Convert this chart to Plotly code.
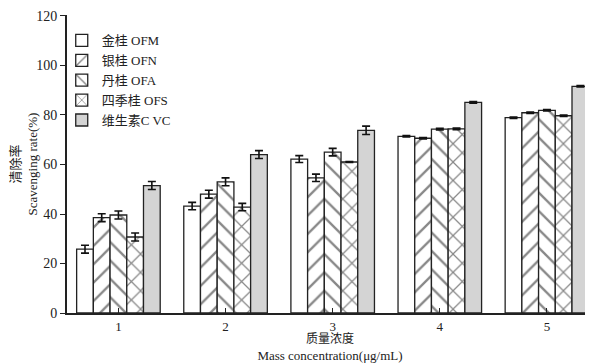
import plotly.graph_objects as go

categories = [1, 2, 3, 4, 5]
tick_labels = ["1", "2", "3", "4", "5"]
series_names = ["金桂 OFM", "银桂 OFN", "丹桂 OFA", "四季桂 OFS", "维生素C VC"]
ofm = [25.8, 43.2, 62.2, 71.4, 78.9]
ofn = [38.5, 48.0, 54.6, 70.6, 80.9]
ofa = [39.6, 53.0, 65.0, 74.3, 81.9]
ofs = [30.7, 42.8, 61.0, 74.4, 79.7]
vc = [51.5, 64.0, 73.8, 85.1, 91.6]
err_ofm = [1.6, 1.5, 1.4, 0.3, 0.3]
err_ofn = [1.6, 1.6, 1.5, 0.3, 0.3]
err_ofa = [1.6, 1.6, 1.5, 0.3, 0.3]
err_ofs = [1.6, 1.5, 0.2, 0.3, 0.3]
err_vc = [1.6, 1.6, 1.7, 0.3, 0.3]

values = [ofm, ofn, ofa, ofs, vc]
errors = [err_ofm, err_ofn, err_ofa, err_ofs, err_vc]
patterns = ["", "/", "\\", "x", ""]
fills = ["white", "white", "white", "white", "#d4d4d4"]

font_en = "Liberation Serif, Noto Sans CJK SC"

fig = go.Figure()
for name, v, e, p, c in zip(series_names, values, errors, patterns, fills):
    fig.add_trace(go.Bar(
        x=categories, y=v, name=name,
        marker=dict(color=c, line=dict(color="#222", width=1.3),
                    pattern=dict(shape=p, fgcolor="#111", bgcolor=c, size=13, solidity=0.18)),
        error_y=dict(type="data", array=e, color="#111", thickness=1.6, width=4),
    ))

fig.update_layout(
    width=585, height=355,
    margin=dict(l=59, r=0, t=7, b=50),
    paper_bgcolor="white", plot_bgcolor="white",
    barmode="group", bargap=0.22, bargroupgap=0,
    font=dict(family=font_en, size=13, color="#222"),
    legend=dict(x=-0.01, y=0.965, xanchor="left", yanchor="top",
                bgcolor="rgba(0,0,0,0)", font=dict(size=13, family=font_en),
                tracegroupgap=0, itemwidth=30),
    xaxis=dict(range=[0.52, 5.43], tickvals=categories, ticktext=tick_labels,
               showline=True, linecolor="#222", linewidth=2, ticks="inside",
               ticklen=5, tickcolor="#222", showgrid=False, zeroline=False,
               tickfont=dict(size=13), automargin=True,
               title=dict(text="<span style='font-size:12px'>质量浓度</span><br>Mass concentration(μg/mL)",
                          standoff=2, font=dict(size=13))),
    yaxis=dict(range=[0, 120.4], tickvals=[0, 20, 40, 60, 80, 100, 120],
               showline=True, linecolor="#222", linewidth=2, ticks="outside",
               ticklen=5, tickcolor="#222", showgrid=False, zeroline=False,
               tickfont=dict(size=14), automargin=False,
               title=dict(text="清除率<br>Scavenging rate(%)", standoff=1,
                          font=dict(size=13))),
)

fig.write_html("out.html")
